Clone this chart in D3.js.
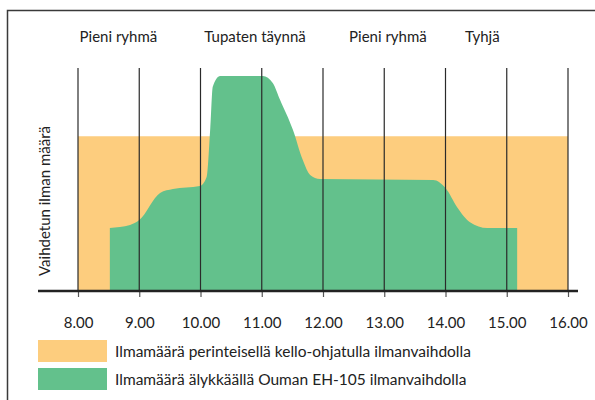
<!DOCTYPE html>
<html>
<head>
<meta charset="utf-8">
<script src="https://cdn.jsdelivr.net/npm/d3@7"></script>
<style>
  body { margin: 0; background: #fff; }
  svg text { font-family: Lato, "Open Sans", sans-serif; fill: #222; }
</style>
</head>
<body>
<div id="chart"></div>
<script>
// hours shown on the axis
const hours = [8, 9, 10, 11, 12, 13, 14, 15, 16]

// conventional clock-controlled ventilation: constant level
const fixedLevel = [[8, 72], [16, 72]]

// Ouman EH-105 demand-controlled ventilation (time, air amount)
const smartLevel = [
  [8.52, 29.3], [8.85, 30.7], [9.0, 33], [9.34, 45.6], [9.55, 47.4],
  [9.99, 48.8], [10.1, 53], [10.16, 76], [10.2, 95], [10.32, 100],
  [11.02, 100], [11.18, 96.7], [11.3, 88.8], [11.51, 74.9], [11.67, 60.9],
  [11.79, 54], [11.95, 52.1], [13.8, 51.6], [14.0, 47.9], [14.19, 39],
  [14.4, 32], [14.68, 29.3], [15.17, 29.3]
]

const phases = [
  { label: 'Pieni ryhmä', at: 8.66 },
  { label: 'Tupaten täynnä', at: 10.89 },
  { label: 'Pieni ryhmä', at: 13.06 },
  { label: 'Tyhjä', at: 14.6 }
]

const legendItems = [
  { label: 'Ilmamäärä perinteisellä kello-ohjatulla ilmanvaihdolla', color: '#fdcd7e' },
  { label: 'Ilmamäärä älykkäällä Ouman EH-105 ilmanvaihdolla', color: '#63c18c' }
]

const w = 595
const h = 400
const baseY = 291

const x = d3.scaleLinear().domain([8, 16]).range([78, 568])
const y = d3.scaleLinear().domain([0, 100]).range([baseY, 76])

const svg = d3.select('#chart')
  .append('svg')
  .attr('width', w)
  .attr('height', h)

// frame
svg.append('path')
  .attr('d', 'M7.5,400 V10.5 H595')
  .attr('fill', 'none')
  .attr('stroke', '#3a3a3a')
  .attr('stroke-width', 1.5)

const area = d3.area()
  .x(d => x(d[0]))
  .y0(y(0))
  .y1(d => y(d[1]))

svg.append('path')
  .datum(fixedLevel)
  .attr('d', area)
  .attr('fill', '#fdcd7e')

svg.append('path')
  .datum(smartLevel)
  .attr('d', area.curve(d3.curveMonotoneX))
  .attr('fill', '#63c18c')

// hour lines
svg.selectAll('line.grid')
  .data(hours)
  .enter()
  .append('line')
  .attr('class', 'grid')
  .attr('x1', d => x(d))
  .attr('x2', d => x(d))
  .attr('y1', 68)
  .attr('y2', baseY)
  .attr('stroke', '#2a2a2a')
  .attr('stroke-width', 1.2)

// axis
const axis = d3.axisBottom(x)
  .tickValues(hours)
  .tickFormat(d => d.toFixed(2))
  .tickSizeInner(6)
  .tickSizeOuter(0)
  .tickPadding(20)

const gx = svg.append('g')
  .attr('transform', `translate(0,${baseY})`)
  .call(axis)
gx.select('.domain').remove()
gx.selectAll('.tick line').attr('stroke', '#555').attr('stroke-width', 1.2)
gx.selectAll('.tick text')
  .attr('font-size', 15)
  .style('font-family', 'Lato, sans-serif')
  .attr('fill', '#222')

svg.append('line')
  .attr('x1', 38)
  .attr('x2', 578)
  .attr('y1', baseY)
  .attr('y2', baseY)
  .attr('stroke', '#222')
  .attr('stroke-width', 2.5)

// phase labels
svg.selectAll('text.phase')
  .data(phases)
  .enter()
  .append('text')
  .attr('class', 'phase')
  .attr('x', d => x(d.at))
  .attr('y', 42)
  .attr('text-anchor', 'middle')
  .attr('font-size', 15)
  .text(d => d.label)

// y label
svg.append('text')
  .attr('transform', 'translate(50,201) rotate(-90)')
  .attr('text-anchor', 'middle')
  .attr('font-size', 15)
  .text('Vaihdetun ilman määrä')

// legend
const legend = svg.selectAll('g.legend')
  .data(legendItems)
  .enter()
  .append('g')
  .attr('class', 'legend')
  .attr('transform', (d, i) => `translate(38,${340 + i * 28})`)

legend.append('rect')
  .attr('width', 69)
  .attr('height', 22)
  .attr('fill', d => d.color)

legend.append('text')
  .attr('x', 77)
  .attr('y', 17)
  .attr('font-size', 15.5)
  .text(d => d.label)
</script>
</body>
</html>
